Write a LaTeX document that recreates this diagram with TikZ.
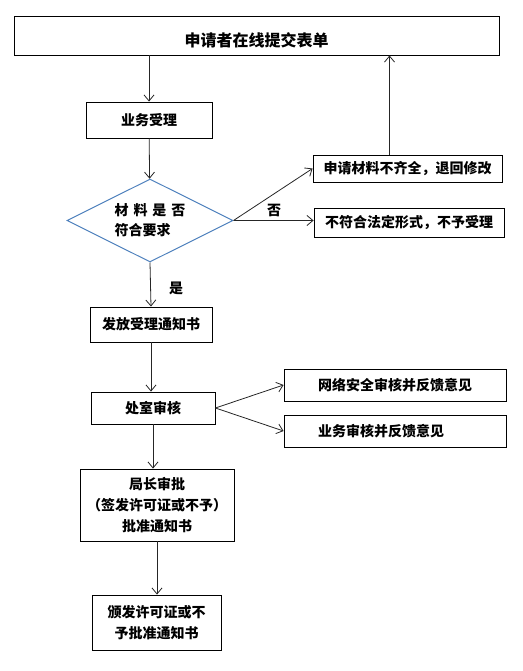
\documentclass[tikz,border=0pt]{standalone}
\usepackage{fontspec}
\setmainfont{Noto Sans CJK SC}
\usepackage{tikz}
\usetikzlibrary{shapes.geometric, arrows}
\usetikzlibrary{arrows.meta}
\definecolor{diamondblue}{RGB}{79,129,189}
\tikzstyle{process} = [rectangle, text centered, draw=black, line width=0.9pt, inner sep=0pt, font=\fontsize{14}{21}\selectfont\bfseries]
\tikzstyle{decision} = [diamond, aspect=2, draw=diamondblue, line width=1pt, inner sep=0pt, font=\fontsize{14}{20}\selectfont\bfseries]
\tikzstyle{arrow} = [line width=0.8pt, draw=black!85, -{Straight Barb[length=6pt, width=10pt]}]

\begin{document}
\begin{tikzpicture}[x=1pt, y=-1pt]
                        \useasboundingbox (0,0) rectangle (522,671);
                        \node (1) [process, minimum width=485pt, minimum height=39pt, text height=22pt, text depth=0pt, font=\fontsize{16}{20}\selectfont\bfseries] at (256.5,35.5) {申请者在线提交表单};
                        \node (2) [process, minimum width=126pt, minimum height=36pt] at (149,120) {业务受理};
                        \node (3) [decision, minimum width=166pt, minimum height=83pt, align=left] at (150,220.5) {材\hspace{5pt}料\hspace{5pt}是\hspace{5pt}否\\符合要求};
                        \node (4) [process, minimum width=189pt, minimum height=27pt] at (407.5,168.5) {申请材料不齐全，退回修改};
                        \node (5) [process, minimum width=190pt, minimum height=29pt] at (409,222.5) {不符合法定形式，不予受理};

                        \node (6) [process, minimum width=122pt, minimum height=35pt] at (151,324.5) {发放受理通知书};
                        \node (7) [process, minimum width=124pt, minimum height=32pt] at (153,408) {处室审核};
                        \node (8) [process, minimum width=222pt, minimum height=32pt, text width=154pt, align=left] at (395,385) {网络安全审核并反馈意见};
                        \node (9) [process, minimum width=222pt, minimum height=32pt, text width=154pt, align=left] at (395,431) {业务审核并反馈意见};

                        \node (10) [process, minimum width=154pt, minimum height=72pt, align=center] at (157,505) {局长审批\\（签发许可证或不予）\\批准通知书};
                        \node (11) [process, minimum width=129pt, minimum height=55pt, align=center] at (156.5,622.5) {颁发许可证或不\\予批准通知书};

                        \node (no) [font=\fontsize{14}{14}\selectfont\bfseries] at (274,210) {否};
                        \node (yes) [font=\fontsize{14}{14}\selectfont\bfseries] at (176,288) {是};

                        \draw[arrow] (2.north |- 1.south) -- (2.north);
                        \draw[arrow] (2) -- (3);
                        \draw[arrow] (3.east) -- (4.west);
                        \draw[arrow] (3.east) -- (3.east -| 5.west);
                        \draw[arrow] ([xshift=-18pt]4.north) -- ([xshift=-18pt]4.north |- 1.south);

                        \draw[arrow] (3.south) -- (6.north);
                        \draw[arrow] (6.south) -- (6.south |- 7.north);
                        \draw[arrow] (7.east) -- (8.west);
                        \draw[arrow] (7.east) -- (9.west);

                        \draw[arrow] (7.south) -- (7.south |- 10.north);
                        \draw[arrow] (10.south) -- (10.south |- 11.north);

                    \end{tikzpicture}
\end{document}
